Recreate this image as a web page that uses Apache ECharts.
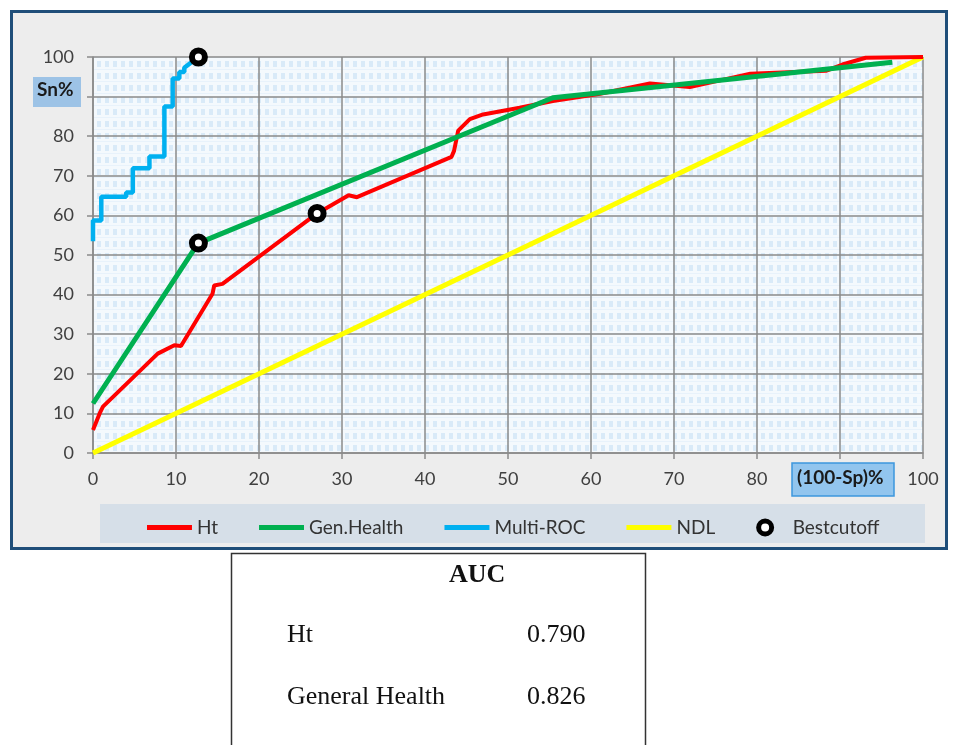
<!DOCTYPE html>
<html>
<head>
<meta charset="utf-8">
<script src="https://cdn.jsdelivr.net/npm/echarts@6/dist/echarts.min.js"></script>
<style>
  html, body { margin: 0; padding: 0; background: #fff; }
  #chart { width: 957px; height: 745px; }
</style>
</head>
<body>
<div id="chart"></div>
<script>
// ROC curves, points as [100-Sp, Sn]
var htPoints = [[0, 5.8], [0.8, 10], [1.2, 11.7], [7.8, 25.1], [9.8, 27.2], [10.6, 27],
  [14.4, 40.2], [14.6, 42.3], [15.6, 42.7], [27, 60.5], [30.8, 65.1], [31.8, 64.6],
  [43.2, 74.8], [43.5, 76.3], [44, 81.4], [45.4, 84.3], [47, 85.5], [51.4, 87.2],
  [55.4, 88.9], [61.1, 90.7], [67.1, 93.3], [71.9, 92.4], [79.2, 95.8], [88.3, 96.5],
  [90.3, 98.1], [93.1, 99.8], [100, 100]];
var genHealthPoints = [[0, 12.5], [12.2, 51.5], [12.7, 53], [55.4, 89.7], [96.3, 98.7]];
var multiRocPoints = [[0, 53.5], [0, 58.7], [1, 58.7], [1, 64.7], [4, 64.7], [4, 65.8],
  [4.8, 65.8], [4.8, 71.9], [6.8, 71.9], [6.8, 74.9], [8.6, 74.9], [8.6, 87.5],
  [9.6, 87.5], [9.6, 94.6], [10.4, 94.6], [10.4, 96.2], [11, 96.2], [11, 97.3], [12.7, 100]];
var ndlPoints = [[0, 0], [100, 100]];
var cutoffPoints = [[12.7, 100], [12.7, 53], [27, 60.5]];

var aucNames = ['Ht', 'General Health'];
var aucValues = ['0.790', '0.826'];

// little checked fill for the plot area
function plotPattern() {
  var c = document.createElement('canvas');
  c.width = 8; c.height = 12;
  var g = c.getContext('2d');
  g.fillStyle = '#f4f9fd';
  g.fillRect(0, 0, 8, 12);
  g.fillStyle = '#d9eaf8';
  g.fillRect(1, 1, 4, 6);
  g.fillStyle = '#e8f2fb';
  g.fillRect(0, 9, 8, 1);
  return c;
}

var font = 'Lato, "Open Sans", sans-serif';
var serif = '"Liberation Serif", "DejaVu Serif", serif';
// thick bar in the middle of the legend icon box (hairlines keep the box height)
var barIcon = 'path://M0,0h45v0.01h-45z M0,4h45v5h-45z M0,13h45v0.01h-45z';

var tableRows = [];
for (var i = 0; i < aucNames.length; i++) {
  tableRows.push({ type: 'text', left: 287, top: 622 + i * 62, z: 20,
    style: { text: aucNames[i], font: '26px ' + serif, fill: '#111' } });
  tableRows.push({ type: 'text', left: 527, top: 622 + i * 62, z: 20,
    style: { text: aucValues[i], font: '26px ' + serif, fill: '#111' } });
}

var chart = echarts.init(document.getElementById('chart'));
chart.setOption({
  animation: false,
  textStyle: { fontFamily: font },
  grid: {
    left: 93, right: 34, top: 57, bottom: 292,
    show: true,
    backgroundColor: { image: plotPattern(), repeat: 'repeat' },
    borderWidth: 0
  },
  xAxis: {
    type: 'value', min: 0, max: 100, interval: 10,
    axisLine: { lineStyle: { color: '#8a8a8a', width: 1.5 } },
    axisTick: { show: true, length: 6, lineStyle: { color: '#8a8a8a', width: 1.5 } },
    splitLine: { show: true, lineStyle: { color: '#8a8a8a', width: 1.5 } },
    axisLabel: { fontSize: 18, color: '#404040', margin: 17 }
  },
  yAxis: {
    type: 'value', min: 0, max: 100, interval: 10,
    axisLine: { show: true, lineStyle: { color: '#8a8a8a', width: 1.5 } },
    axisTick: { show: true, length: 6, lineStyle: { color: '#8a8a8a', width: 1.5 } },
    splitLine: { show: true, lineStyle: { color: '#8a8a8a', width: 1.5 } },
    axisLabel: { fontSize: 18, color: '#404040', margin: 19 }
  },
  legend: {
    left: 142, top: 513,
    itemWidth: 45, itemHeight: 13, itemGap: 41,
    textStyle: { fontSize: 19, color: '#333', fontFamily: font },
    data: [
      { name: 'Ht', icon: barIcon },
      { name: 'Gen.Health', icon: barIcon },
      { name: 'Multi-ROC', icon: barIcon },
      { name: 'NDL', icon: barIcon },
      { name: 'Bestcutoff', icon: 'circle',
        itemStyle: { color: '#fff', borderColor: '#000', borderWidth: 5, opacity: 1 } }
    ]
  },
  graphic: [
    { type: 'rect', z: -10, shape: { x: 11.5, y: 11.5, width: 935, height: 537 },
      style: { fill: '#ededed', stroke: '#1f4e79', lineWidth: 3 } },
    { type: 'rect', z: -5, shape: { x: 100, y: 504, width: 825, height: 39 },
      style: { fill: '#d6dfe8' } },
    { type: 'rect', z: 50, shape: { x: 33, y: 77, width: 48, height: 30 },
      style: { fill: '#9dc3e6' } },
    { type: 'text', z: 51, left: 37, top: 80,
      style: { text: 'Sn%', font: 'bold 19px ' + font, fill: '#1a1a1a' } },
    { type: 'rect', z: 50, shape: { x: 792, y: 463, width: 102, height: 33 },
      style: { fill: '#92c5ee', stroke: '#3d97dd', lineWidth: 1.5 } },
    { type: 'text', z: 51, left: 797, top: 468,
      style: { text: '(100-Sp)%', font: 'bold 19px ' + font, fill: '#1a1a1a' } },
    { type: 'rect', z: 10, shape: { x: 231.5, y: 553.5, width: 414, height: 200 },
      style: { fill: '#fff', stroke: '#333', lineWidth: 1.5 } },
    { type: 'text', z: 20, left: 449, top: 562,
      style: { text: 'AUC', font: 'bold 26px ' + serif, fill: '#111' } }
  ].concat(tableRows),
  series: [
    { name: 'NDL', type: 'line', data: ndlPoints, symbol: 'none', z: 2,
      itemStyle: { color: '#ffff00' }, lineStyle: { color: '#ffff00', width: 5 } },
    { name: 'Ht', type: 'line', data: htPoints, symbol: 'none', z: 3,
      itemStyle: { color: '#ff0000' }, lineStyle: { color: '#ff0000', width: 4 } },
    { name: 'Gen.Health', type: 'line', data: genHealthPoints, symbol: 'none', z: 4,
      itemStyle: { color: '#00b050' }, lineStyle: { color: '#00b050', width: 5 } },
    { name: 'Multi-ROC', type: 'line', data: multiRocPoints, symbol: 'none', z: 4,
      itemStyle: { color: '#00b0f0' }, lineStyle: { color: '#00b0f0', width: 4.5 } },
    { name: 'Bestcutoff', type: 'scatter', data: cutoffPoints, z: 6, clip: false,
      symbol: 'circle', symbolSize: 13,
      itemStyle: { color: '#ffffff', borderColor: '#000', borderWidth: 6, opacity: 1 } }
  ]
});
</script>
</body>
</html>
